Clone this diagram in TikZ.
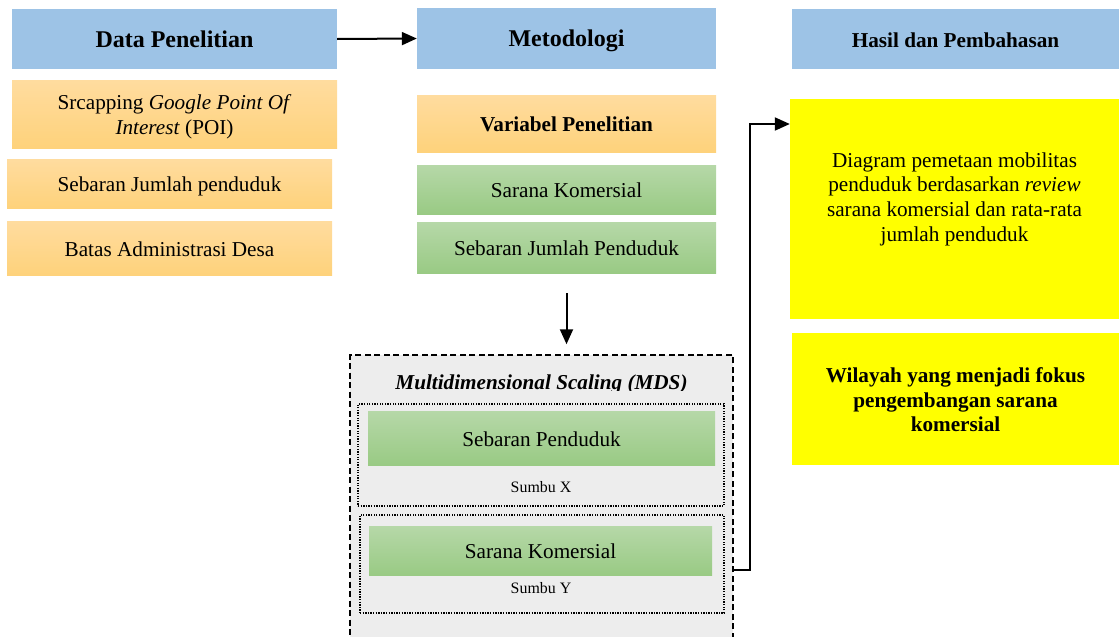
\documentclass[tikz,border=0pt]{standalone}
\usepackage{fontspec}
\setmainfont{Liberation Serif}
\usetikzlibrary{arrows.meta}
\definecolor{hblue}{HTML}{9DC3E6}
\definecolor{otop}{HTML}{FFDC9F}
\definecolor{obot}{HTML}{FED27B}
\definecolor{gtop}{HTML}{B6D8A8}
\definecolor{gbot}{HTML}{99CA84}
\definecolor{mgray}{HTML}{EDEDED}
\definecolor{yel}{HTML}{FFFF00}
\newcommand{\nrmtxt}{\fontsize{21.2}{24.6}\selectfont}
\newcommand{\hdrtxt}{\fontsize{24}{28}\selectfont\bfseries}
\newcommand{\smltxt}{\fontsize{15.9}{18}\selectfont}
\begin{document}
\begin{tikzpicture}[x=1pt,y=-1pt,
  box/.style={rectangle, inner sep=0pt, align=center, font=\nrmtxt},
  one/.style={text height=20pt, text depth=4pt},
  hdr/.style={box, one, fill=hblue, font=\hdrtxt},
  obox/.style={box, top color=otop, bottom color=obot},
  gbox/.style={box, top color=gtop, bottom color=gbot},
  ybox/.style={box, fill=yel},
  txt/.style={inner sep=0pt, align=center, font=\nrmtxt},
  arr/.style={line width=2pt, -{Triangle[length=15pt,width=13pt]}},
  mdsbox/.style={rectangle, fill=mgray, draw=black, line width=1.5pt, dash pattern=on 6pt off 3.5pt},
  dotbox/.style={rectangle, draw=black, line width=1.3pt, dash pattern=on 1.3pt off 1.3pt},
]
\useasboundingbox (0,0) rectangle (1119,637);
\clip (0,0) rectangle (1119,637);

% headers
\node[hdr, minimum width=325pt, minimum height=60pt] (dp) at (174.5,39) {Data Penelitian};
\node[hdr, minimum width=299pt, minimum height=61pt] (met) at (566.5,38.5) {Metodologi};
\node[hdr, minimum width=327pt, minimum height=60pt, font=\nrmtxt\bfseries] (hasil) at (955.5,39) {Hasil dan Pembahasan};

% data column
\node[obox, minimum width=325pt, minimum height=68pt] (poi) at (174.5,114) {};
\node[txt] (poit) at ([yshift=-3pt]poi.center) {Srcapping \textit{Google Point Of}\\\textit{Interest} (POI)};
\node[obox, one, minimum width=325pt, minimum height=49pt] (sjp) at (169.5,183.5) {Sebaran Jumlah penduduk};
\node[obox, one, minimum width=325pt, minimum height=54pt] (bad) at (169.5,248) {Batas Administrasi Desa};

% metodologi column
\node[obox, one, minimum width=299pt, minimum height=57pt, font=\nrmtxt\bfseries] (var) at (566.5,123.5) {Variabel Penelitian};
\node[gbox, one, minimum width=299pt, minimum height=49pt] (sk) at (566.5,189.5) {Sarana Komersial};
\node[gbox, one, minimum width=299pt, minimum height=51pt] (sjP) at (566.5,247.5) {Sebaran Jumlah Penduduk};

% MDS
\node[mdsbox, minimum width=383pt, minimum height=290pt] (mds) at (541.5,500) {};
\begin{scope}
\clip (350,356) rectangle (733,390.5);
\node[txt, one, font=\nrmtxt\bfseries\itshape] (mdst) at (541.5,381) {Multidimensional Scaling (MDS)};
\end{scope}
\node[dotbox, minimum width=366pt, minimum height=102pt] (sx) at (541,455) {};
\node[gbox, one, minimum width=347pt, minimum height=54pt] (sp) at (541.5,438) {Sebaran Penduduk};
\node[txt, font=\smltxt] (sbx) at (541,487) {Sumbu X};
\node[dotbox, minimum width=364pt, minimum height=98pt] (sy) at (542,564) {};
\node[gbox, one, minimum width=343pt, minimum height=49pt] (sk2) at (540.5,550.5) {Sarana Komersial};
\node[txt, font=\smltxt] (sby) at (541,588) {Sumbu Y};

% results
\node[ybox, minimum width=329pt, minimum height=220pt] (diag) at (954.5,209) {};
\node[txt] (diagt) at ([yshift=10pt]diag.center) {Diagram pemetaan mobilitas\\penduduk berdasarkan \textit{review}\\sarana komersial dan rata-rata\\jumlah penduduk};
\node[ybox, minimum width=327pt, minimum height=132pt] (wil) at (955.5,399) {};
\node[txt, font=\nrmtxt\bfseries] (wilt) at ([yshift=-1pt]wil.center) {Wilayah yang menjadi fokus\\pengembangan sarana\\komersial};

% connectors
\draw[arr] (dp.east) -- (met.west);
\draw[arr] ([yshift=-20pt]sjP.south) -- ([yshift=10pt]sjP.south |- mds.north);
\coordinate (bend) at (750,124);
\draw[arr] ([yshift=-70pt]mds.east) -| (bend) -- ([yshift=85pt]diag.west);
\end{tikzpicture}
\end{document}
